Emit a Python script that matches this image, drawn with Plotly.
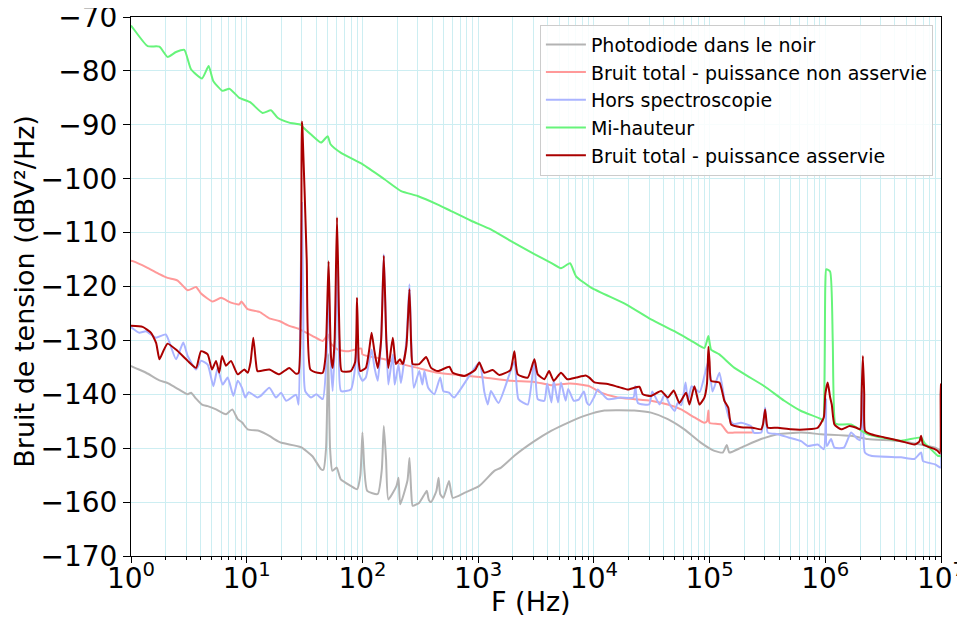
import plotly.graph_objects as go

# ---------------- data ----------------
gray_f = [1.0, 1.035, 1.35, 1.76, 2.07, 2.45, 3.09, 3.3, 3.65, 4.11, 4.6, 5.43, 6.62, 7.5, 8.36, 9.1, 10.2,
          12.9, 15.7, 17.3, 20, 29.4, 37, 43.9, 46, 48.5, 50.6, 52.5, 55, 60, 65, 79.4, 90, 96, 100, 104, 110,
          135.5, 147, 153, 160, 167.5, 197, 205, 212, 245, 255, 264, 272, 310, 345, 360, 375, 392, 435, 455,
          470, 500, 560, 603, 760, 1023, 1380, 1578, 2056, 3062, 4266, 5943, 8279, 12330, 22390, 31190,
          43550, 60540, 84500, 110200, 130000, 140900, 148300, 187100, 278600, 388100, 618000, 920000,
          1.671e6, 2.328e6, 4.519e6, 8.91e6, 1e7]
gray_v = [-134.7, -134.9, -136.0, -137.4, -137.9, -138.8, -140.0, -139.7, -140.8, -141.9, -142.2, -142.8,
          -143.7, -142.8, -144.6, -145.2, -146.5, -146.8, -147.7, -148.3, -149.0, -149.8, -151.5, -153.9,
          -154.0, -150.0, -132.5, -150.0, -154.2, -153.6, -155.8, -157.0, -157.6, -155.0, -147.1, -154.0,
          -157.9, -158.5, -154.0, -145.9, -152.0, -159.5, -157.0, -155.5, -160.4, -156.0, -151.8, -158.0,
          -160.7, -160.1, -158.5, -157.9, -159.6, -160.0, -158.0, -155.5, -158.5, -159.2, -156.1, -159.2,
          -158.3, -157.0, -154.2, -153.6, -151.4, -148.7, -146.8, -145.3, -144.0, -143.0, -143.0, -143.4,
          -144.6, -146.5, -149.0, -150.5, -150.8, -149.4, -150.8, -149.9, -148.3, -147.4, -147.1, -147.4,
          -147.7, -148.3, -148.7, -149.9, -150.5]

lred_f = [1.0, 1.035, 1.35, 1.76, 2.07, 2.53, 3.09, 3.65, 4.03, 5.08, 6.0, 7.31, 8.63, 9.0, 10.2, 12.9,
          15.7, 19.1, 23.3, 28.5, 37.2, 45.4, 50.5, 53, 61.1, 75, 98, 100, 155, 216, 300, 448, 667, 1132,
          1923, 3062, 4266, 6223, 9141, 11530, 16070, 22390, 31190, 43550, 56750, 73960, 90160, 95000,
          97720, 100000, 125600, 143500, 164100, 236000]
lred_v = [-115.2, -115.3, -116.4, -117.7, -118.4, -118.9, -120.7, -120.1, -121.3, -122.8, -122.1, -123.0,
          -123.3, -122.8, -124.2, -124.7, -125.9, -126.4, -127.3, -127.9, -129.2, -130.1, -128.9, -130.5,
          -131.7, -132.0, -131.5, -132.6, -133.5, -134.4, -135.1, -136.0, -136.4, -136.9, -137.5, -137.7,
          -138.3, -138.0, -138.5, -139.7, -140.6, -140.9, -141.2, -141.9, -142.8, -144.3, -145.3, -145.0,
          -143.0, -145.3, -145.6, -147.1, -147.1, -147.1]

blue_f = [1.0, 1.035, 1.18, 1.35, 1.64, 2.0, 2.45, 2.83, 3.09, 3.65, 4.03, 4.6, 5.15, 5.61, 6.19, 6.85,
          7.67, 8.36, 9.1, 9.72, 10.4, 12.4, 13.2, 15.7, 17.9, 19.8, 21.9, 26.7, 28.1, 29.0, 30.0, 30.8, 32,
          36.0, 40, 45.4, 49, 51, 53, 55.3, 58, 60.3, 62.5, 65.3, 79.4, 86.5, 89.8, 93, 100, 107, 114, 120,
          127, 135.5, 145, 153, 161, 167.5, 183, 190, 205, 215, 240, 255, 264, 278, 310, 330, 343, 370, 418,
          470, 500, 560, 620, 1023, 1132, 1210, 1290, 1500, 2056, 2230, 2685, 3062, 3273, 3733, 3950, 4300,
          4500, 4900, 5200, 5700, 6000, 6700, 7400, 8200, 8700, 9141, 10000, 10800, 11900, 13180, 17000,
          22000, 22800, 24000, 30000, 32000, 37000, 41000, 45500, 50000, 53000, 57000, 62000, 65000, 70000,
          82000, 97720, 106000, 121600, 135000, 147000, 160000, 187100, 228600, 240000, 280000, 302000,
          318400, 388100, 480000, 618000, 704700, 861000, 970500, 1.016e6, 1.03e6, 1.122e6, 1.2e6, 1.45e6,
          1.671e6, 1.9e6, 2.0e6, 2.113e6, 2.2e6, 2.489e6, 4.519e6, 5.888e6, 6.73e6, 7.0e6, 8.91e6, 9.93e6,
          1e7]
blue_v = [-127.5, -127.8, -128.6, -128.3, -129.5, -128.9, -133.5, -130.4, -132.9, -135.4, -133.8, -134.5,
          -138.5, -135.1, -138.2, -136.9, -140.3, -137.5, -138.8, -140.6, -139.6, -140.6, -140.3, -138.8,
          -140.6, -139.7, -141.2, -140.1, -141.9, -125.0, -104.5, -125.0, -139.4, -140.6, -140.0, -140.9,
          -133.0, -120.2, -133.0, -139.4, -130.0, -116.2, -130.0, -139.4, -139.1, -135.0, -128.9, -136.0,
          -137.5, -136.9, -134.0, -131.7, -135.0, -137.5, -130.0, -114.0, -130.0, -138.2, -132.6, -138.2,
          -134.5, -137.9, -130.0, -119.6, -130.0, -138.8, -135.7, -138.2, -135.7, -138.8, -140.0, -136.9,
          -139.4, -139.7, -140.6, -134.1, -139.6, -141.9, -139.4, -141.6, -134.0, -140.9, -141.9, -133.5,
          -140.9, -141.2, -138.0, -141.5, -137.5, -141.5, -137.8, -141.2, -139.0, -141.2, -141.0, -139.5,
          -141.5, -142.0, -140.6, -139.1, -140.0, -140.9, -140.6, -140.6, -138.5, -141.6, -141.9, -139.5,
          -141.9, -140.0, -142.0, -143.1, -141.6, -142.0, -137.8, -141.2, -138.5, -139.6, -133.8, -139.5,
          -136.0, -141.2, -144.3, -145.5, -145.3, -145.9, -147.1, -147.1, -142.5, -147.1, -147.4, -148.0,
          -148.7, -149.6, -149.3, -150.2, -140.9, -149.6, -148.3, -149.9, -149.9, -147.1, -148.3, -148.5,
          -139.4, -150.8, -151.4, -151.7, -152.0, -150.8, -152.4, -153.0, -153.6, -151.0]

green_f = [1.0, 1.035, 1.39, 1.76, 2.07, 2.45, 2.89, 3.30, 4.11, 4.69, 5.15, 6.19, 7.08, 8.63, 10.7, 13.7,
           16.2, 18.5, 23.3, 29.4, 30.5, 36, 43.9, 50.1, 53, 65.3, 100, 155, 216, 300, 448, 583, 869, 1288,
           1923, 3062, 4266, 5200, 6223, 7015, 9462, 18970, 31190, 49660, 73960, 90160, 97720, 103000,
           121600, 164100, 297800, 442600, 618000, 920000, 955000, 1.0e6, 1.02e6, 1.1e6, 1.16e6, 1.22e6,
           1.3e6, 1.671e6, 2.328e6, 4.519e6, 6.73e6, 7.2e6, 8.2e6, 9.38e6, 1e7]
green_v = [-71.6, -72.0, -75.4, -75.5, -77.4, -76.5, -76.1, -79.7, -81.4, -79.1, -81.9, -83.7, -83.3,
           -85.0, -85.8, -87.8, -87.3, -88.7, -89.6, -90.0, -90.4, -91.8, -93.3, -92.1, -93.6, -95.2, -97.3,
           -100.1, -102.3, -103.2, -104.8, -106.0, -107.8, -109.4, -111.6, -114.0, -115.6, -116.6, -115.7,
           -118.1, -120.2, -123.3, -126.1, -128.3, -130.4, -131.4, -129.2, -131.7, -132.6, -135.1, -138.5,
           -141.2, -143.1, -144.6, -145.0, -120.0, -116.8, -117.2, -130.0, -145.4, -145.6, -145.6, -147.4,
           -148.6, -148.0, -149.0, -150.2, -151.4, -151.5]

dred_f = [1.0, 1.26, 1.49, 1.65, 1.76, 1.9, 2.07, 2.45, 3.09, 3.65, 4.03, 4.6, 5.01, 5.43, 5.79, 6.12, 6.62,
          7.31, 8.36, 9.53, 10.2, 10.8, 11.4, 12.0, 12.4, 15.7, 19.1, 23.3, 26.7, 28.1, 29.9, 30.3, 33.0,
          35.5, 41, 45.4, 48, 51, 53.5, 55.3, 57.5, 60.3, 63.5, 66.2, 79.4, 86.5, 89.8, 93, 95.9, 107, 114,
          120, 127, 135.5, 145, 153, 161, 167.5, 183, 195, 211, 223, 240, 255, 264, 272, 310, 355, 392, 448,
          564, 603, 760, 940, 1023, 1132, 1337, 1524, 1900, 2056, 2198, 2685, 3062, 3273, 3733, 4102, 4500,
          5200, 5900, 7015, 8500, 9141, 10120, 13180, 16070, 19630, 24720, 26490, 31190, 38110, 43550,
          48980, 54830, 62660, 66990, 73960, 81660, 90160, 95000, 97720, 100000, 103000, 121600, 134300,
          145200, 153500, 187100, 236000, 278600, 290000, 302000, 312000, 318400, 388100, 505800, 704700,
          861000, 970500, 1.0e6, 1.05e6, 1.1e6, 1.138e6, 1.2e6, 1.371e6, 1.622e6, 1.854e6, 2.0e6, 2.06e6,
          2.113e6, 2.17e6, 2.208e6, 2.489e6, 3.243e6, 4.519e6, 5.888e6, 6.5e6, 6.73e6, 7.0e6, 8.91e6,
          9.38e6, 9.8e6, 9.93e6, 1e7]
dred_v = [-127.3, -127.5, -128.6, -130.5, -133.5, -132.0, -130.6, -131.7, -133.8, -135.1, -132.0, -132.6,
          -135.4, -133.8, -136.0, -132.9, -134.7, -133.8, -136.3, -135.4, -136.0, -134.0, -129.5, -134.0,
          -135.7, -135.4, -136.3, -135.1, -136.2, -136.0, -89.4, -90.5, -115.0, -135.4, -136.0, -136.0,
          -133.0, -115.3, -133.0, -135.1, -130.0, -107.2, -130.0, -135.7, -135.7, -134.0, -122.1, -134.0,
          -135.7, -135.1, -132.0, -128.6, -132.0, -135.1, -130.0, -114.3, -130.0, -135.1, -129.5, -134.4,
          -133.5, -134.4, -131.0, -120.5, -131.0, -134.4, -134.4, -133.1, -135.1, -135.7, -134.9, -136.0,
          -136.6, -135.5, -134.1, -136.0, -135.5, -136.4, -135.5, -132.0, -136.3, -136.9, -133.5, -136.3,
          -137.2, -135.7, -137.5, -136.0, -137.2, -136.9, -136.5, -136.9, -137.8, -138.1, -138.6, -139.1,
          -138.6, -140.0, -140.3, -139.4, -140.6, -139.3, -141.6, -139.7, -141.9, -138.5, -141.9, -140.6,
          -138.0, -131.2, -134.0, -137.5, -137.8, -141.2, -142.5, -145.6, -146.1, -146.2, -146.5, -145.5,
          -142.8, -145.5, -146.2, -146.2, -146.5, -146.5, -146.2, -144.3, -140.0, -137.8, -140.5, -141.9,
          -145.6, -146.5, -145.9, -146.2, -146.5, -140.0, -132.9, -140.0, -146.8, -147.4, -148.0, -148.7,
          -149.3, -148.8, -147.7, -149.3, -150.2, -150.5, -151.0, -140.0, -138.0]

series_names = ["Photodiode dans le noir", "Bruit total - puissance non asservie",
                "Hors spectroscopie", "Mi-hauteur", "Bruit total - puissance asservie"]
series_colors = ["#b3b3b3", "#ff9999", "#aab4ff", "#66f47a", "#aa0000"]

x_tickvals = [1, 10, 100, 1e3, 1e4, 1e5, 1e6, 1e7]
x_ticktext = ["10<sup>0</sup>", "10<sup>1</sup>", "10<sup>2</sup>", "10<sup>3</sup>",
              "10<sup>4</sup>", "10<sup>5</sup>", "10<sup>6</sup>", "10<sup>7</sup>"]
y_tickvals = [-170, -160, -150, -140, -130, -120, -110, -100, -90, -80, -70]
y_ticktext = ["\u2212170", "\u2212160", "\u2212150", "\u2212140", "\u2212130", "\u2212120",
              "\u2212110", "\u2212100", "\u221290", "\u221280", "\u221270"]
x_title = "F (Hz)"
y_title = "Bruit de tension (dBV²/Hz)"

# ---------------- figure ----------------
fig = go.Figure()
data = [(gray_f, gray_v), (lred_f, lred_v), (blue_f, blue_v), (green_f, green_v), (dred_f, dred_v)]
for (fx, vy), name, col in zip(data, series_names, series_colors):
    fig.add_trace(go.Scatter(x=fx, y=vy, mode="lines", name=name,
                             line=dict(color=col, width=2, shape="spline", smoothing=0.5)))

grid = "#cdeef2"
fig.update_layout(
    width=965, height=621,
    margin=dict(l=123, r=32, t=9, b=73, autoexpand=False),
    paper_bgcolor="white", plot_bgcolor="white",
    font=dict(family="DejaVu Sans", color="black"),
    showlegend=True,
    legend=dict(x=0.990, y=0.986, xanchor="right", yanchor="top", itemwidth=40,
                bgcolor="rgba(255,255,255,0.85)", bordercolor="#cccccc", borderwidth=1,
                font=dict(size=19, family="DejaVu Sans")),
    annotations=[
        dict(text=x_title, xref="paper", yref="paper", x=0.494, y=-0.0853,
             xanchor="center", yanchor="middle", showarrow=False, font=dict(size=27)),
        dict(text=y_title, xref="paper", yref="paper", x=-0.131, y=0.492, textangle=-90,
             xanchor="center", yanchor="middle", showarrow=False, font=dict(size=27)),
    ],
)
fig.update_xaxes(
    type="log", range=[0, 7], automargin=False, ticklabeloverflow="allow",
    tickvals=x_tickvals, ticktext=x_ticktext, ticklabelstandoff=-9,
    tickfont=dict(size=28), ticks="outside", ticklen=6, tickcolor="black",
    showline=True, linecolor="black", linewidth=1, mirror=True,
    showgrid=True, gridcolor=grid, gridwidth=1,
    minor=dict(dtick="D1", ticks="outside", ticklen=3, tickcolor="black", showgrid=True, gridcolor=grid),
    zeroline=False,
)
fig.update_yaxes(
    range=[-170, -70], automargin=False, ticklabeloverflow="allow",
    tickvals=y_tickvals, ticktext=y_ticktext,
    tickfont=dict(size=28), ticks="outside", ticklen=7, tickcolor="black",
    showline=True, linecolor="black", linewidth=1, mirror=True,
    showgrid=True, gridcolor=grid, gridwidth=1,
    zeroline=False,
)

fig.write_html("out.html")
